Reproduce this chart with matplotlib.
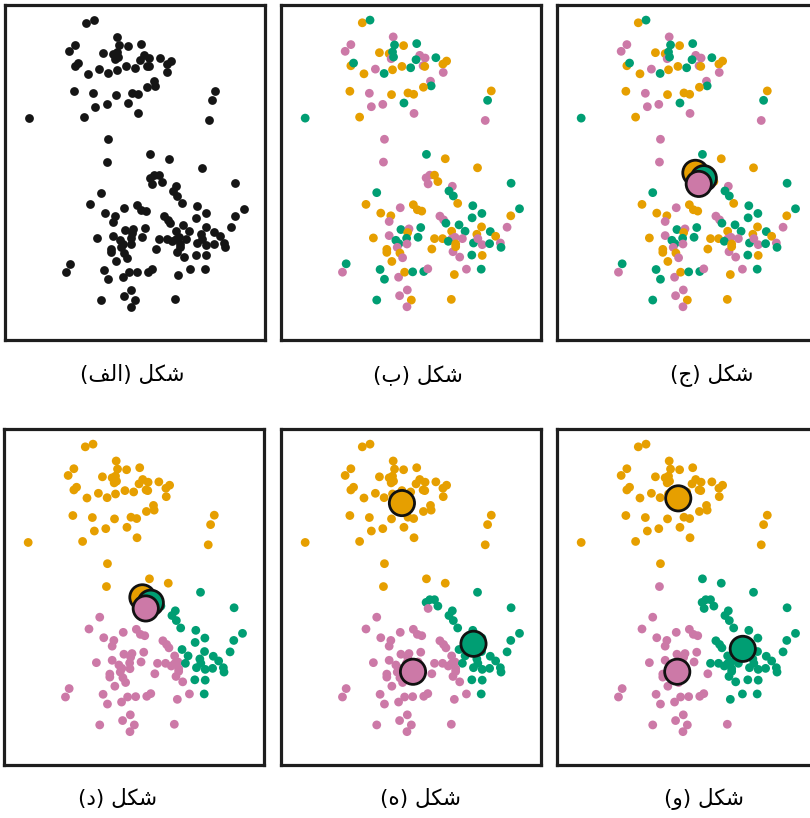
import matplotlib.pyplot as plt

# point positions (x to the right, y downward)
top_x = [247, 270, 339, 213, 196, 343, 370, 409, 298, 327, 337, 333, 340, 418, 434, 407,
         466, 498, 487, 428, 433, 213, 221, 252, 286, 312, 337, 365, 391, 488, 450, 452,
         429, 210, 268, 334, 383, 400, 274, 308, 371, 401, 239, 77, 631, 620, 613]
top_y = [58, 50, 100, 123, 143, 124, 126, 120, 147, 150, 145, 165, 160, 155, 163, 168,
         162, 172, 181, 186, 188, 186, 178, 210, 196, 209, 198, 188, 192, 206, 232, 246,
         250, 262, 268, 272, 267, 271, 308, 301, 297, 328, 339, 342, 261, 289, 349]
top_rand = "ogppp" "gogoo" "gpgpp" "ggoop" "oogop" "googp" "pgoop" "ooopp" "gpogo" "gp"

bot_x = [313, 310, 438, 494, 590, 690, 715, 689, 678, 437,
         448, 462, 472, 443, 515, 505, 518, 531, 576, 603,
         574, 290, 258, 302, 332, 327, 360, 399, 411, 424,
         478, 489, 496, 280, 327, 362, 386, 382, 421, 379,
         413, 347, 356, 351, 380, 320, 320, 359, 367, 335,
         199, 188, 300, 313, 355, 373, 397, 430, 442, 381,
         358, 393, 380, 290, 512, 521, 557, 601, 454, 462,
         486, 517, 537, 573, 604, 578, 588, 602, 604, 626,
         628, 644, 658, 660, 535, 513, 553, 591, 523, 513,
         545, 503, 525, 525]
bot_y = [405, 473, 450, 463, 490, 536, 612, 633, 667, 520,
         512, 512, 531, 538, 545, 559, 574, 596, 603, 626,
         639, 564, 599, 625, 633, 650, 609, 600, 615, 619,
         634, 645, 655, 699, 692, 674, 672, 683, 668, 700,
         697, 706, 716, 727, 717, 733, 742, 744, 758, 769,
         776, 801, 793, 822, 816, 801, 800, 799, 791, 854,
         871, 884, 904, 884, 882, 808, 792, 792, 732, 701,
         701, 740, 756, 750, 751, 714, 688, 666, 719, 716,
         680, 694, 714, 727, 660, 679, 679, 701, 697, 702,
         701, 709, 717, 725]
bot_rand = ("ppgooggopp" "pooppggogg" "ggoooppooo" "ppgopgpogg" "gggppooopo"
            "gpggpoggpp" "popgoopgoo" "oppgogoopg" "gopggogppp" "pgoo")
bot_step1 = ("oooogggggg" "gggpgggggg" "gppppppppp" "pppppppppp" "pppppppppp"
             "pppppppppp" "pppppppgpp" "pppggggggg" "gggggpggpp" "gppp")
bot_final = ("opgggggggg" "gggggggggg" "gppppppppp" "gggppppppp" "pppppppppp"
             "pppppppppp" "pppppgggpg" "gggggggggg" "gggggggggg" "gggg")

# centroids (orange, green, pink)
cent_start_x = [417, 442, 427]
cent_start_y = [505, 521, 538]
cent_step1_x = [365, 578, 398]
cent_step1_y = [225, 643, 726]
cent_final_x = [366, 558, 363]
cent_final_y = [211, 658, 726]

captions = ["\u0634\u0643\u0644 (\u0627\u0644\u0641)", "\u0634\u0643\u0644 (\u0628)",
            "\u0634\u0643\u0644 (\u062c)", "\u0634\u0643\u0644 (\u062f)",
            "\u0634\u0643\u0644 (\u0647)", "\u0634\u0643\u0644 (\u0648)"]
# same captions, shaped by hand (presentation forms, visual order) since matplotlib does no Arabic shaping
shaped = ["(\uFED2\uFEDF\uFE8D) \uFEDE\uFEDC\uFEB7", "(\uFE8F) \uFEDE\uFEDC\uFEB7",
          "(\uFE9D) \uFEDE\uFEDC\uFEB7", "(\uFEA9) \uFEDE\uFEDC\uFEB7",
          "(\uFEE9) \uFEDE\uFEDC\uFEB7", "(\uFEED) \uFEDE\uFEDC\uFEB7"]

colors = {'o': '#E69F00', 'g': '#009E73', 'p': '#CC79A7'}

xs = top_x + bot_x
ys = top_y + bot_y
lab_rand = top_rand + bot_rand
lab_step1 = "o" * len(top_x) + bot_step1
lab_final = "o" * len(top_x) + bot_final

W, H = 810, 818
fig = plt.figure(figsize=(W / 100, H / 100), dpi=100)


def panel(left, top, w=260, h=335):
    ax = fig.add_axes([left / W, 1 - (top + h) / H, w / W, h / H])
    ax.set_xlim(5, 779)
    ax.set_ylim(1003, 5)
    ax.set_xticks([])
    ax.set_yticks([])
    for s in ax.spines.values():
        s.set_linewidth(2.3)
        s.set_color('#1e1e1e')
    return ax


def dots(ax, labels=None):
    if labels is None:
        ax.scatter(xs, ys, s=40, color='#151515', linewidths=0)
    else:
        ax.scatter(xs, ys, s=40, c=[colors[k] for k in labels], linewidths=0)


def centers(ax, cx, cy):
    ax.scatter(cx, cy, s=330, c=[colors['o'], colors['g'], colors['p']],
               edgecolors='#111111', linewidths=2.0, zorder=5)


axes = [panel(5, 5), panel(281, 5), panel(557, 5),
        panel(4, 429, h=336), panel(281, 429, h=336), panel(557, 429, h=336)]

dots(axes[0])
dots(axes[1], lab_rand)
dots(axes[2], lab_rand)
centers(axes[2], cent_start_x, cent_start_y)
dots(axes[3], lab_step1)
centers(axes[3], cent_start_x, cent_start_y)
dots(axes[4], lab_step1)
centers(axes[4], cent_step1_x, cent_step1_y)
dots(axes[5], lab_final)
centers(axes[5], cent_final_x, cent_final_y)

cap_pos = [(132, 375), (418, 375), (712, 375), (118, 799), (421, 799), (704, 799)]
for (cx, cy), txt in zip(cap_pos, shaped):
    fig.text(cx / W, 1 - cy / H, txt, ha='center', va='center', fontsize=15.5,
             family=['DejaVu Sans'])

plt.savefig('out.png', dpi=100)
